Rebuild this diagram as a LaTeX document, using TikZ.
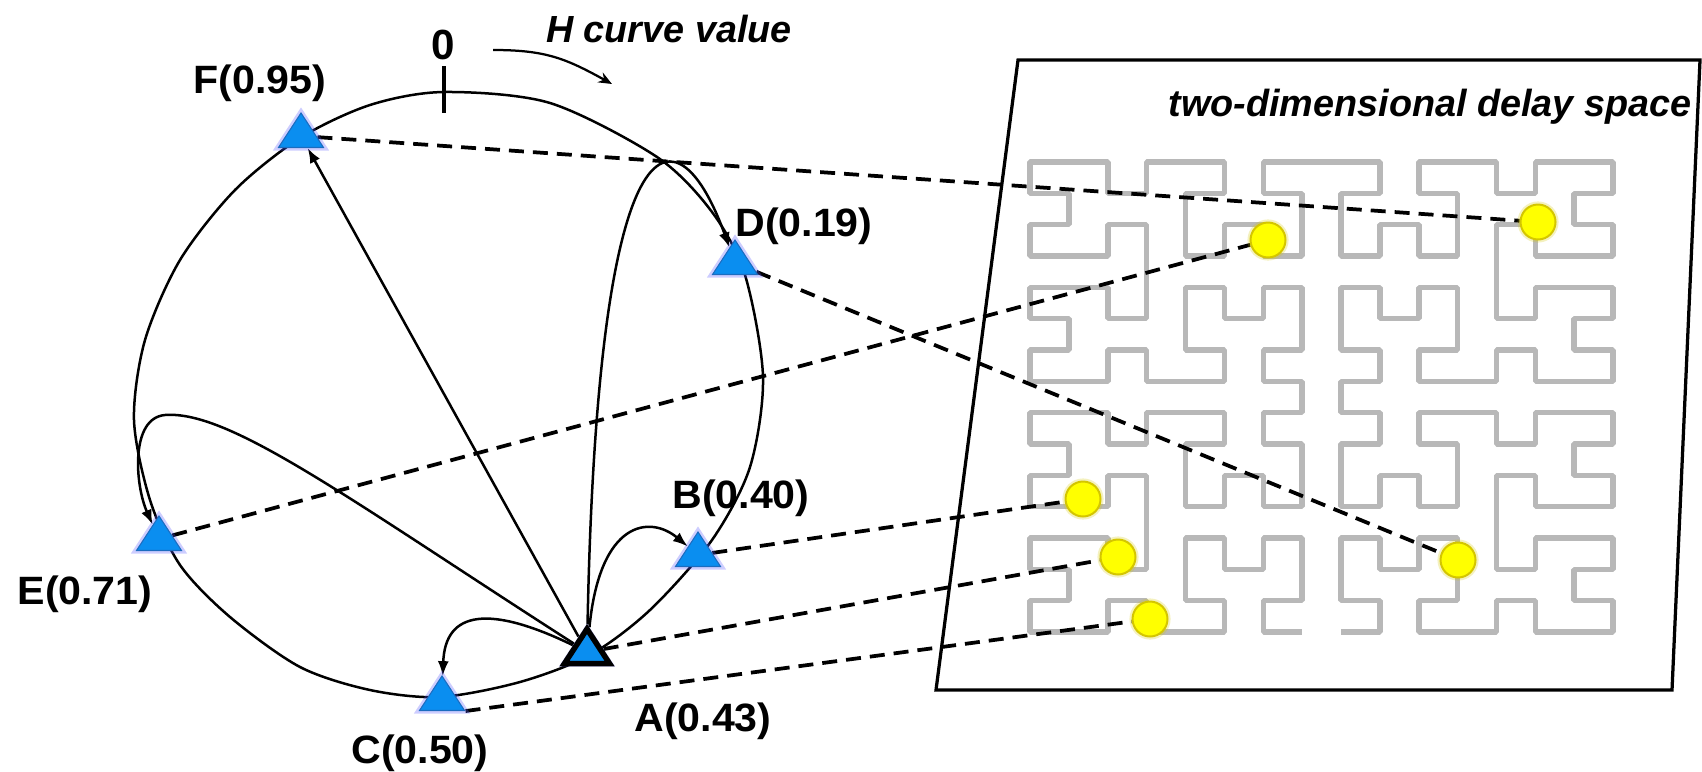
\documentclass[tikz,border=0pt]{standalone}
\usepackage{fontspec}
\setmainfont{Liberation Sans}
\usepackage{graphicx}
\usetikzlibrary{arrows.meta,shapes.geometric,backgrounds,lindenmayersystems}
\pgfdeclarelindenmayersystem{Moore}{
  \rule{L -> -RF+LFL+FR-}
  \rule{R -> +LF-RFR-FL+}
}
\definecolor{triblue}{HTML}{0A8EF0}
\definecolor{triedge}{HTML}{1B6CC0}
\definecolor{glowc}{HTML}{5A5AFF}
\definecolor{hilgray}{HTML}{B8B8B8}
\definecolor{dotyel}{HTML}{FFFF00}
\definecolor{dotedge}{HTML}{D4C600}
\newcommand{\lbl}[1]{\scalebox{1.04}[1]{#1}}
\begin{document}
\begin{tikzpicture}[x=0.02cm, y=-0.02cm,
  tri/.style={regular polygon, regular polygon sides=3, minimum size=0.92cm, inner sep=0pt, xscale=1.13,
    fill=triblue, draw=triedge, line width=0.6pt, preaction={draw=glowc, line width=3.5pt, opacity=0.3}},
  trib/.style={tri, draw=black, line width=0.11cm},
  ydot/.style={circle, minimum size=0.7cm, inner sep=0pt, fill=dotyel, draw=dotedge, line width=0.04cm,
    preaction={draw=dotedge, line width=3.5pt, opacity=0.25}},
  lab/.style={anchor=base, inner sep=0pt, font=\fontsize{22.5}{25}\selectfont\bfseries},
  ital/.style={anchor=base, inner sep=0pt, font=\fontsize{21.5}{24}\selectfont\bfseries\itshape},
  conn/.style={line width=0.05cm, -{Latex[length=0.3cm,width=0.22cm]}},
  dsh/.style={line width=0.075cm, dash pattern=on 0.3cm off 0.18cm},
  hil/.style={draw=hilgray, line width=0.11cm, line join=bevel},
]
\useasboundingbox (0,0) rectangle (1702,771);

% triangles (ring nodes)
\node[tri] (F) at (301,136) {};
\node[tri] (D) at (735,263) {};
\node[tri] (B) at (698,555) {};
\node[trib] (A) at (587,652) {};
\node[tri] (C) at (442,699) {};
\node[tri] (E) at (159,539) {};

% yellow points in delay space
\node[ydot] (d1) at (1538,222) {};
\node[ydot] (d2) at (1268,240) {};
\node[ydot] (d3) at (1083,499) {};
\node[ydot] (d4) at (1118,557) {};
\node[ydot] (d5) at (1150,619) {};
\node[ydot] (d6) at (1458,560) {};

% labels
\node[lab] (lF) at (260,93) {\lbl{F(0.95)}};
\node[lab] (lD) at (804,236) {\lbl{D(0.19)}};
\node[lab] (lB) at (741,508) {\lbl{B(0.40)}};
\node[lab] (lA) at (703,731) {\lbl{A(0.43)}};
\node[lab] (lC) at (420,763) {\lbl{C(0.50)}};
\node[lab] (lE) at (85,604) {\lbl{E(0.71)}};
\node[lab, font=\fontsize{24}{26}\selectfont\bfseries] (l0) at (443,59) {0};
\node[ital] (lH) at (669,42) {H curve value};
\node[ital] (lS) at (1430,116) {two-dimensional delay space};

\coordinate (hs) at (493,50);
\coordinate (he) at (612,84);
\coordinate (t1) at (444,66);
\coordinate (t2) at (444,113);

\begin{pgfonlayer}{background}
  % Hilbert-type (Moore) curve
  \begin{scope}[shift={(1341,632)}, xscale=0.7774, yscale=0.6267]
    \draw[hil] (0,0) [l-system={Moore, axiom=+LFL+F+LFL, order=3, step=1cm, angle=90}] lindenmayer system;
  \end{scope}
  % frame of delay space
  \draw[line width=0.065cm] (1018,60) -- (1700,60) -- (1672,690) -- (936,690) -- cycle;
  % ring
  \draw[line width=0.05cm] plot[smooth cycle] coordinates {
    (444,92) (550,103) (657,157) (712,212) (745,275) (763,377) (750,467) (712,540)
    (650,610) (590,655) (520,682) (440,697) (370,690) (300,667) (230,617) (180,565)
    (150,500) (134,420) (145,340) (180,260) (235,190) (300,138) (370,105)};
  \draw[line width=0.09cm] (t1) -- (t2);
  \draw[line width=0.045cm, -{Stealth[length=0.27cm,width=0.22cm]}] (hs) .. controls (545,50) and (565,58) .. (he);
  % dashed mappings
  \draw[dsh] (F) -- (d1);
  \draw[dsh] (D) -- (d6);
  \draw[dsh] (E) -- (d2);
  \draw[dsh] (B) -- (d3);
  \draw[dsh] (A) -- (d4);
  \draw[dsh] (C.corner 3) -- (d5);
  % routing arrows from A
  \draw[conn] (A) -- (F);
  \draw[conn] (A) .. controls (598,90) and (680,110) .. (D);
  \draw[conn] (A) .. controls (600,520) and (650,515) .. (B);
  \draw[conn] (A) .. controls (490,605) and (445,610) .. (C);
  \draw[conn] (A) .. controls (350,500) and (230,410) .. (165,415) .. controls (130,418) and (135,485) .. (E);
\end{pgfonlayer}
\end{tikzpicture}
\end{document}
